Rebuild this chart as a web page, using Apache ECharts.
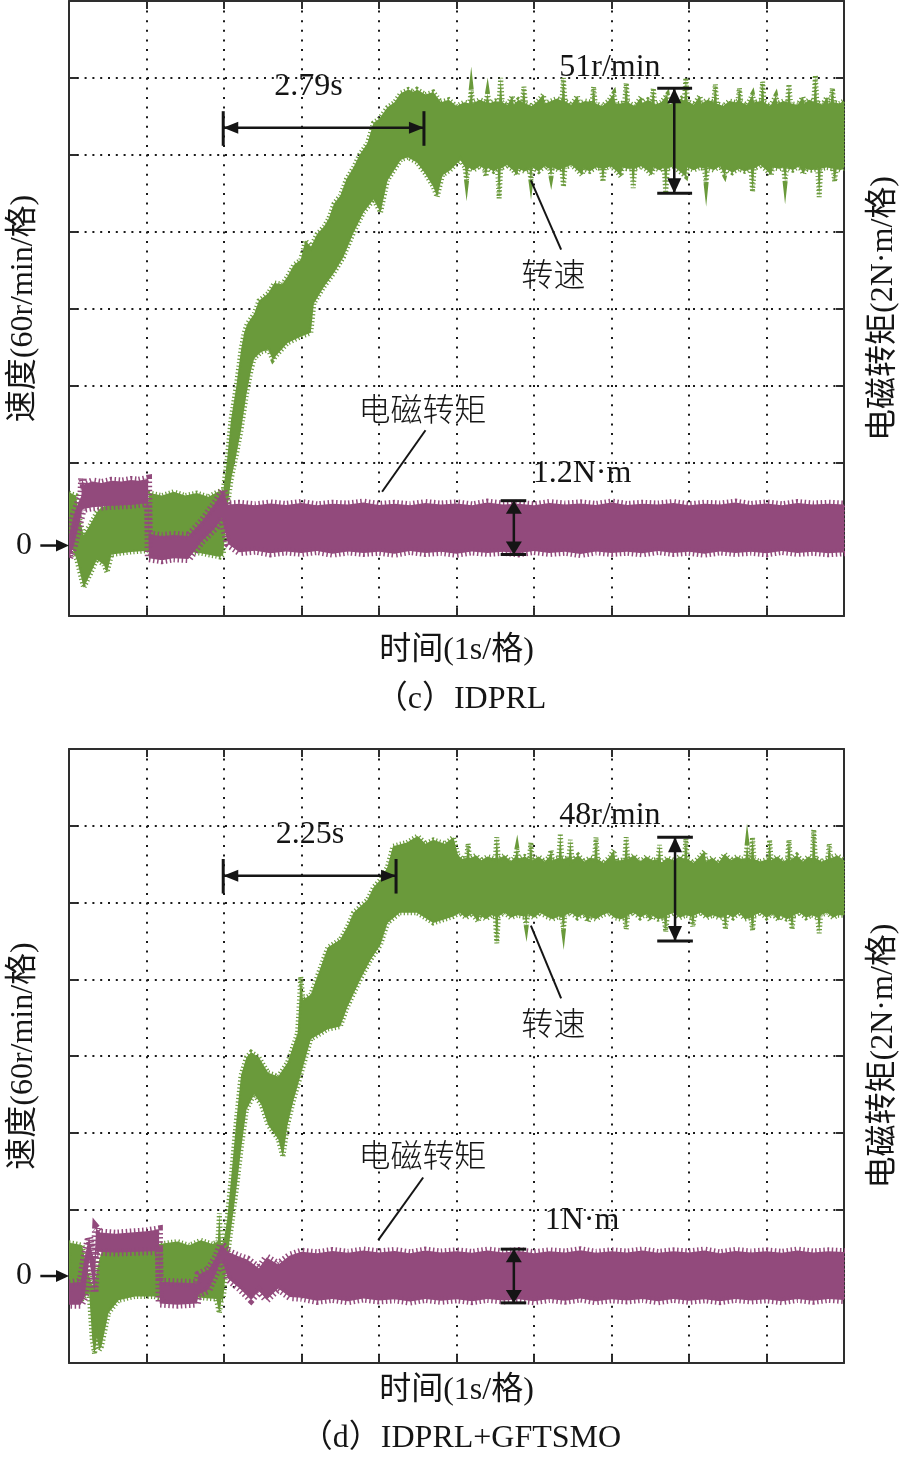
<!DOCTYPE html>
<html><head><meta charset="utf-8">
<script src="https://cdn.jsdelivr.net/npm/echarts@6/dist/echarts.min.js"></script>
<style>html,body{margin:0;padding:0;background:#fff}#c{width:908px;height:1459px}</style>
</head><body><div id="c"></div>
<script>
// Axes (time 1 s / division, speed 60 r/min / division, torque 2 N·m / division)
const timeRange = [0, 10];
const speedRange = [-60, 420];
const torqueRange = [-2, 14];
const speedStep = 60, torqueStep = 2, timeStep = 1;

// ---------- (c) IDPRL : envelopes [t (s), value] ----------
const speedUpperC = [[0,36],[0.09,34],[0.14,15],[0.19,3],[0.27,11],[0.36,21],[0.42,25],[0.6,27],[0.8,29],[1.02,29],[1.04,36],[1.2,34],[1.35,37],[1.5,34],[1.65,36],[1.8,33],[1.92,37],[1.99,38],[2.04,62],[2.09,93],[2.16,120],[2.22,148],[2.26,161],[2.3,168],[2.39,176],[2.45,186],[2.57,192],[2.65,200],[2.75,199],[2.82,205],[2.9,214],[2.99,218],[3.05,233],[3.12,228],[3.2,238],[3.29,244],[3.35,250],[3.42,262],[3.5,268],[3.58,281],[3.67,290],[3.75,300],[3.85,309],[3.93,325],[4.0,328],[4.11,337],[4.2,341],[4.28,348],[4.38,351],[4.45,349],[4.49,351],[4.6,347],[4.7,349],[4.8,341],[4.9,343],[5.0,338],[5.1,341],[5.17,340],[5.19,351],[5.21,340],[5.3,343],[5.38,341],[5.4,348],[5.42,340],[5.5,342],[5.55,341],[5.57,360],[5.59,341],[5.66,339],[5.72,346],[5.74,339],[5.8,343],[5.85,341],[5.87,353],[5.89,340],[5.97,338],[6.05,342],[6.12,347],[6.14,340],[6.22,342],[6.3,344],[6.36,342],[6.38,360],[6.4,342],[6.48,339],[6.56,346],[6.58,340],[6.66,342],[6.75,341],[6.77,353],[6.79,340],[6.88,338],[6.96,342],[7.03,348],[7.05,340],[7.12,340],[7.17,341],[7.19,356],[7.21,341],[7.3,338],[7.38,345],[7.4,340],[7.47,343],[7.52,341],[7.54,352],[7.56,339],[7.64,341],[7.72,347],[7.74,339],[7.82,341],[7.9,344],[7.94,342],[7.96,360],[7.98,342],[8.06,339],[8.14,346],[8.16,340],[8.24,343],[8.32,341],[8.34,355],[8.36,340],[8.44,338],[8.52,342],[8.6,341],[8.63,342],[8.65,352],[8.67,341],[8.75,339],[8.82,347],[8.84,341],[8.93,342],[8.95,357],[8.97,341],[9.05,338],[9.12,346],[9.14,340],[9.22,342],[9.27,341],[9.29,355],[9.31,340],[9.4,339],[9.47,345],[9.49,340],[9.55,343],[9.61,341],[9.63,362],[9.65,341],[9.72,339],[9.78,345],[9.8,340],[9.83,341],[9.85,352],[9.87,341],[9.94,340],[10,342]];
const speedLowerC = [[0,-1],[0.1,-16],[0.19,-38],[0.27,-28],[0.36,-16],[0.45,-20],[0.49,-26],[0.55,-12],[0.8,-10],[1.02,-9],[1.05,-11],[1.4,-9],[1.7,-11],[1.95,-14],[1.99,-12],[2.04,23],[2.09,46],[2.16,66],[2.22,85],[2.29,113],[2.35,132],[2.39,141],[2.48,146],[2.57,148],[2.63,140],[2.7,145],[2.82,153],[2.99,158],[3.12,161],[3.16,184],[3.29,197],[3.42,208],[3.54,220],[3.67,239],[3.8,255],[3.93,265],[4.02,255],[4.11,280],[4.28,296],[4.37,298],[4.49,294],[4.6,285],[4.7,275],[4.75,267],[4.82,284],[4.92,288],[5.05,296],[5.11,290],[5.13,280],[5.15,290],[5.22,288],[5.3,291],[5.36,289],[5.38,283],[5.4,290],[5.48,287],[5.53,289],[5.55,266],[5.57,289],[5.65,292],[5.73,288],[5.78,284],[5.8,289],[5.88,287],[5.94,289],[5.96,280],[5.98,290],[6.06,287],[6.14,291],[6.2,289],[6.22,283],[6.24,290],[6.32,288],[6.36,289],[6.38,275],[6.4,290],[6.48,292],[6.56,288],[6.62,284],[6.64,289],[6.72,287],[6.8,290],[6.87,289],[6.89,279],[6.91,289],[6.99,291],[7.07,287],[7.12,283],[7.14,290],[7.2,289],[7.26,289],[7.28,274],[7.3,289],[7.38,291],[7.46,288],[7.52,284],[7.54,290],[7.62,288],[7.68,290],[7.7,270],[7.72,289],[7.8,291],[7.88,287],[7.96,283],[7.98,290],[8.06,288],[8.14,290],[8.2,289],[8.22,278],[8.24,290],[8.32,288],[8.4,291],[8.46,284],[8.48,289],[8.56,286],[8.64,289],[8.72,287],[8.8,289],[8.82,271],[8.84,289],[8.92,292],[9.0,288],[9.06,284],[9.08,290],[9.16,289],[9.22,290],[9.24,279],[9.26,290],[9.34,288],[9.42,291],[9.48,285],[9.5,289],[9.58,288],[9.66,289],[9.68,267],[9.7,289],[9.78,290],[9.86,289],[9.88,279],[9.9,289],[9.96,288],[10,290]];
const torqueUpperC = [[0,0.1],[0.06,0.62],[0.13,1.0],[0.16,1.12],[0.17,1.6],[0.19,1.42],[0.3,1.5],[0.42,1.46],[0.55,1.52],[0.68,1.5],[0.8,1.54],[0.9,1.52],[1.02,1.57],[1.03,0.12],[1.2,0.08],[1.35,0.11],[1.54,0.08],[1.71,0.45],[1.9,0.98],[1.99,1.28],[2.05,0.9],[2.2,0.92],[2.4,0.88],[2.6,0.93],[2.8,0.89],[3.0,0.94],[3.2,0.88],[3.4,0.92],[3.6,0.9],[3.8,0.95],[4.0,0.89],[4.2,0.92],[4.4,0.88],[4.6,0.94],[4.8,0.9],[5.0,0.93],[5.2,0.88],[5.4,0.95],[5.6,0.9],[5.8,0.92],[6.0,0.88],[6.2,0.94],[6.4,0.9],[6.6,0.93],[6.8,0.89],[7.0,0.95],[7.2,0.89],[7.4,0.92],[7.6,0.9],[7.8,0.94],[8.0,0.88],[8.2,0.92],[8.4,0.9],[8.6,0.95],[8.8,0.89],[9.0,0.93],[9.2,0.88],[9.4,0.94],[9.6,0.9],[9.8,0.92],[10,0.9]];
const torqueLowerC = [[0,-0.5],[0.06,-0.2],[0.13,0.38],[0.16,0.62],[0.17,0.78],[0.3,0.83],[0.5,0.86],[0.8,0.89],[1.02,0.94],[1.03,-0.5],[1.2,-0.55],[1.35,-0.5],[1.54,-0.52],[1.71,-0.06],[1.9,0.32],[1.97,0.55],[2.05,-0.12],[2.2,-0.34],[2.4,-0.3],[2.6,-0.37],[2.8,-0.32],[3.0,-0.36],[3.2,-0.31],[3.4,-0.38],[3.6,-0.32],[3.8,-0.36],[4.0,-0.33],[4.2,-0.38],[4.4,-0.31],[4.6,-0.36],[4.8,-0.33],[5.0,-0.38],[5.2,-0.32],[5.4,-0.36],[5.6,-0.33],[5.8,-0.37],[6.0,-0.31],[6.2,-0.36],[6.4,-0.33],[6.6,-0.39],[6.8,-0.32],[7.0,-0.36],[7.2,-0.33],[7.4,-0.37],[7.6,-0.31],[7.8,-0.36],[8.0,-0.33],[8.2,-0.38],[8.4,-0.32],[8.6,-0.36],[8.8,-0.33],[9.0,-0.37],[9.2,-0.31],[9.4,-0.36],[9.6,-0.33],[9.8,-0.37],[10,-0.34]];

// ---------- (d) IDPRL+GFTSMO ----------
const speedUpperD = [[0,34],[0.1,33],[0.17,32],[0.24,12],[0.3,0],[0.33,3],[0.39,21],[0.42,26],[0.5,29],[0.8,29],[1.15,30],[1.16,33],[1.4,35],[1.55,32],[1.7,36],[1.85,33],[1.92,35],[1.94,57],[1.96,34],[1.99,33],[2.04,52],[2.09,83],[2.16,130],[2.22,165],[2.29,179],[2.35,183],[2.45,179],[2.57,167],[2.7,164],[2.82,175],[2.95,198],[2.99,242],[3.02,224],[3.12,228],[3.25,250],[3.34,265],[3.5,271],[3.6,282],[3.67,292],[3.85,302],[3.93,312],[4.02,318],[4.11,328],[4.18,344],[4.36,347],[4.5,352],[4.6,346],[4.7,349],[4.85,346],[4.96,351],[5.02,337],[5.08,334],[5.13,335],[5.15,346],[5.17,334],[5.25,337],[5.32,333],[5.4,336],[5.5,334],[5.52,351],[5.54,334],[5.62,337],[5.7,332],[5.76,336],[5.78,342],[5.8,334],[5.88,336],[5.94,334],[5.96,347],[5.98,333],[6.06,336],[6.14,332],[6.2,336],[6.22,341],[6.24,333],[6.32,335],[6.34,354],[6.36,334],[6.45,335],[6.47,349],[6.49,333],[6.57,337],[6.65,332],[6.72,335],[6.78,334],[6.8,351],[6.82,334],[6.9,331],[6.98,336],[7.03,341],[7.05,333],[7.12,333],[7.17,334],[7.19,351],[7.21,334],[7.29,337],[7.37,332],[7.45,336],[7.53,333],[7.6,334],[7.62,345],[7.64,331],[7.72,335],[7.8,333],[7.88,336],[7.94,334],[7.96,350],[7.98,334],[8.06,331],[8.14,336],[8.2,340],[8.22,332],[8.3,335],[8.38,331],[8.46,338],[8.54,333],[8.62,336],[8.68,334],[8.73,334],[8.75,345],[8.77,335],[8.8,334],[8.82,351],[8.84,334],[8.92,332],[9.02,334],[9.04,349],[9.06,333],[9.14,336],[9.22,332],[9.27,334],[9.29,349],[9.31,333],[9.39,337],[9.47,332],[9.54,336],[9.59,334],[9.61,357],[9.63,335],[9.71,332],[9.79,334],[9.81,346],[9.83,334],[9.91,337],[10,333]];
const speedLowerD = [[0,-10],[0.17,-10],[0.26,-5],[0.3,-42],[0.33,-53],[0.36,-40],[0.39,-50],[0.42,-47],[0.51,-21],[0.64,-11],[0.85,-8],[1.1,-8],[1.16,-9],[1.5,-8],[1.9,-10],[1.94,-21],[1.97,-10],[1.99,-10],[2.04,21],[2.09,44],[2.16,76],[2.22,107],[2.29,138],[2.39,150],[2.48,142],[2.57,126],[2.7,115],[2.76,101],[2.82,126],[2.9,146],[2.99,165],[3.12,193],[3.34,201],[3.5,203],[3.59,218],[3.76,240],[3.89,255],[4.02,267],[4.11,284],[4.27,292],[4.49,292],[4.7,284],[4.96,289],[5.04,292],[5.12,288],[5.2,291],[5.28,285],[5.3,290],[5.38,287],[5.45,290],[5.5,289],[5.52,268],[5.54,289],[5.62,292],[5.7,288],[5.78,290],[5.88,289],[5.9,282],[5.92,291],[6.0,288],[6.08,292],[6.16,289],[6.24,287],[6.32,289],[6.36,288],[6.38,279],[6.4,290],[6.48,292],[6.56,288],[6.64,291],[6.7,285],[6.72,289],[6.8,287],[6.88,290],[6.96,292],[7.04,288],[7.12,287],[7.17,288],[7.19,279],[7.21,290],[7.29,292],[7.37,288],[7.45,291],[7.5,286],[7.52,290],[7.6,287],[7.68,288],[7.7,277],[7.72,290],[7.8,292],[7.88,288],[7.96,290],[8.03,289],[8.05,281],[8.07,290],[8.15,292],[8.23,288],[8.31,290],[8.39,288],[8.45,289],[8.47,279],[8.49,291],[8.57,288],[8.65,292],[8.72,287],[8.8,288],[8.82,278],[8.84,290],[8.92,292],[9.0,288],[9.08,291],[9.16,286],[9.18,290],[9.26,287],[9.31,288],[9.33,279],[9.35,290],[9.43,292],[9.51,288],[9.59,290],[9.66,288],[9.68,276],[9.7,290],[9.78,292],[9.86,288],[9.92,290],[10,290]];
const torqueUpperD = [[0,0.08],[0.15,0.12],[0.2,0.75],[0.26,1.28],[0.3,0.85],[0.33,0.7],[0.35,1.52],[0.4,1.4],[0.6,1.37],[0.8,1.4],[1.0,1.43],[1.16,1.48],[1.17,0.12],[1.4,0.1],[1.65,0.08],[1.67,0.3],[1.8,0.43],[1.9,0.77],[1.96,1.08],[1.99,1.04],[2.05,0.9],[2.2,0.77],[2.3,0.7],[2.39,0.56],[2.45,0.47],[2.55,0.75],[2.7,0.57],[2.85,0.8],[3.0,0.9],[3.2,0.86],[3.4,0.92],[3.6,0.87],[3.8,0.93],[4.0,0.88],[4.2,0.92],[4.4,0.86],[4.6,0.93],[4.8,0.88],[5.0,0.91],[5.2,0.87],[5.4,0.93],[5.6,0.88],[5.8,0.92],[6.0,0.86],[6.2,0.91],[6.4,0.88],[6.6,0.94],[6.8,0.87],[7.0,0.91],[7.2,0.88],[7.4,0.93],[7.6,0.87],[7.8,0.91],[8.0,0.88],[8.2,0.93],[8.4,0.86],[8.6,0.92],[8.8,0.88],[9.0,0.91],[9.2,0.87],[9.4,0.93],[9.6,0.88],[9.8,0.91],[10,0.89]];
const torqueLowerD = [[0,-0.48],[0.15,-0.48],[0.2,-0.3],[0.26,0.68],[0.3,0.22],[0.33,-0.17],[0.35,0.9],[0.6,0.88],[0.9,0.9],[1.16,0.92],[1.17,-0.45],[1.4,-0.48],[1.65,-0.45],[1.67,-0.22],[1.8,-0.09],[1.9,0.35],[1.96,0.68],[1.99,0.6],[2.05,0.2],[2.2,-0.05],[2.35,-0.35],[2.45,-0.12],[2.55,-0.35],[2.7,-0.06],[2.85,-0.28],[3.0,-0.3],[3.2,-0.38],[3.4,-0.33],[3.6,-0.39],[3.8,-0.32],[4.0,-0.37],[4.2,-0.34],[4.4,-0.4],[4.6,-0.33],[4.8,-0.38],[5.0,-0.34],[5.2,-0.39],[5.4,-0.33],[5.6,-0.37],[5.8,-0.34],[6.0,-0.39],[6.2,-0.33],[6.4,-0.38],[6.6,-0.32],[6.8,-0.39],[7.0,-0.34],[7.2,-0.37],[7.4,-0.33],[7.6,-0.39],[7.8,-0.33],[8.0,-0.38],[8.2,-0.34],[8.4,-0.39],[8.6,-0.33],[8.8,-0.37],[9.0,-0.34],[9.2,-0.39],[9.4,-0.33],[9.6,-0.38],[9.8,-0.33],[10,-0.36]];

// ---------- texts ----------
const xAxisTitle = '时间(1s/格)';
const speedAxisTitle = '速度(60r/min/格)';
const torqueAxisTitle = '电磁转矩(2N·m/格)';
const captionC = '（c）IDPRL';
const captionD = '（d）IDPRL+GFTSMO';

// annotations (anchors in data units: [t, speed])
const annotC = {
  rise: '2.79s', riseAt: [3.09, 353], riseArrow: [[1.99, 321], [4.58, 321]], riseCap: [307, 334],
  sRip: '51r/min', sRipAt: [6.98, 368], sRipArrow: [[7.81, 352], [7.81, 270]], sRipCap: [7.59, 8.04],
  sName: '转速', sNameAt: [6.25, 207], sLeader: [[5.96, 280], [6.35, 226]],
  tName: '电磁转矩', tNameAt: [4.56, 102], tLeader: [[4.6, 85], [4.04, 37]],
  tRip: '1.2N·m', tRipAt: [6.62, 51], tRipArrow: [[5.74, 30], [5.74, -12]], tRipCap: [5.57, 5.9],
  zeroAt: [-0.58, -5], zeroArrow: [[-0.37, -5], [0, -5]]
};
const annotD = {
  rise: '2.25s', riseAt: [3.11, 353], riseArrow: [[1.99, 321], [4.22, 321]], riseCap: [307, 334],
  sRip: '48r/min', sRipAt: [6.98, 368], sRipArrow: [[7.82, 351], [7.82, 270]], sRipCap: [7.59, 8.05],
  sName: '转速', sNameAt: [6.25, 206], sLeader: [[5.96, 282], [6.35, 225]],
  tName: '电磁转矩', tNameAt: [4.56, 103], tLeader: [[4.57, 85], [3.99, 36]],
  tRip: '1N·m', tRipAt: [6.62, 51], tRipArrow: [[5.74, 29], [5.74, -13]], tRipCap: [5.57, 5.9],
  zeroAt: [-0.58, 8], zeroArrow: [[-0.37, 8], [0, 8]]
};

const GREEN = '#6a9a3b', PURPLE = '#924a7c', INK = '#151515', FRAME = '#2e2e2e';
const SERIF = '"Liberation Serif","Times New Roman","Noto Sans CJK SC",serif';
const CJK = '"Noto Sans CJK SC",sans-serif';

function band(upper, lower, color, xi, yi, fringe, dash) {
  return {
    type: 'custom', xAxisIndex: xi, yAxisIndex: yi, clip: true, silent: true, z: 3,
    data: [upper[0]],
    renderItem: function (params, api) {
      const pts = upper.map(p => api.coord(p));
      for (let i = lower.length - 1; i >= 0; i--) pts.push(api.coord(lower[i]));
      return { type: 'polygon', shape: { points: pts },
        style: { fill: color, stroke: color, lineWidth: fringe, lineDash: dash, lineJoin: 'miter' } };
    }
  };
}

function annotations(a, xi, yi) {
  return {
    type: 'custom', xAxisIndex: xi, yAxisIndex: yi, clip: false, silent: true, z: 10,
    data: [a.riseAt],
    renderItem: function (params, api) {
      const c = p => api.coord(p);
      const kids = [];
      const ln = (p, q, w) => kids.push({ type: 'line', shape: { x1: p[0], y1: p[1], x2: q[0], y2: q[1] }, style: { stroke: INK, lineWidth: w } });
      const head = (tip, from, len, half) => {
        const dx = tip[0] - from[0], dy = tip[1] - from[1], d = Math.hypot(dx, dy);
        const ux = dx / d, uy = dy / d, bx = tip[0] - ux * len, by = tip[1] - uy * len;
        kids.push({ type: 'polygon', shape: { points: [[tip[0], tip[1]], [bx - uy * half, by + ux * half], [bx + uy * half, by - ux * half]] }, style: { fill: INK } });
      };
      const txt = (s, p, font) => kids.push({ type: 'text', x: p[0], y: p[1], style: { text: s, font: font, fill: INK, align: 'center', verticalAlign: 'middle', textAlign: 'center', textVerticalAlign: 'middle' } });
      // rise-time arrow
      const r0 = c(a.riseArrow[0]), r1 = c(a.riseArrow[1]);
      ln(r0, r1, 2.5); head(r0, r1, 15, 6); head(r1, r0, 15, 6);
      ln(c([a.riseArrow[0][0], a.riseCap[0]]), c([a.riseArrow[0][0], a.riseCap[1]]), 3);
      ln(c([a.riseArrow[1][0], a.riseCap[0]]), c([a.riseArrow[1][0], a.riseCap[1]]), 3);
      txt(a.rise, c(a.riseAt), '32px ' + SERIF);
      // speed ripple
      const s0 = c(a.sRipArrow[0]), s1 = c(a.sRipArrow[1]);
      ln(s0, s1, 2.5); head(s0, s1, 15, 7); head(s1, s0, 15, 7);
      ln(c([a.sRipCap[0], a.sRipArrow[0][1]]), c([a.sRipCap[1], a.sRipArrow[0][1]]), 3);
      ln(c([a.sRipCap[0], a.sRipArrow[1][1]]), c([a.sRipCap[1], a.sRipArrow[1][1]]), 3);
      txt(a.sRip, c(a.sRipAt), '32px ' + SERIF);
      // torque ripple
      const t0 = c(a.tRipArrow[0]), t1 = c(a.tRipArrow[1]);
      ln(t0, t1, 2.5); head(t0, t1, 13, 8); head(t1, t0, 13, 8);
      ln(c([a.tRipCap[0], a.tRipArrow[0][1]]), c([a.tRipCap[1], a.tRipArrow[0][1]]), 3);
      ln(c([a.tRipCap[0], a.tRipArrow[1][1]]), c([a.tRipCap[1], a.tRipArrow[1][1]]), 3);
      txt(a.tRip, c(a.tRipAt), '32px ' + SERIF);
      // names + leaders
      txt(a.sName, c(a.sNameAt), '300 32px ' + CJK);
      ln(c(a.sLeader[0]), c(a.sLeader[1]), 2);
      txt(a.tName, c(a.tNameAt), '300 32px ' + CJK);
      ln(c(a.tLeader[0]), c(a.tLeader[1]), 2);
      // zero marker
      const z0 = c(a.zeroArrow[0]), z1 = c(a.zeroArrow[1]);
      ln(z0, [z1[0] - 6, z1[1]], 2.5); head(z1, z0, 13, 6);
      txt('0', c(a.zeroAt), '32px ' + SERIF);
      return { type: 'group', children: kids };
    }
  };
}

const frameLine = { color: FRAME, width: 2 };
const nameStyle = { fontFamily: SERIF, fontSize: 32, color: INK };
function xPair(gridIndex, gap) {
  return [
    { type: 'value', gridIndex, position: 'bottom', min: timeRange[0], max: timeRange[1], interval: timeStep,
      axisLine: { onZero: false, lineStyle: frameLine }, axisTick: { inside: true, length: 8, lineStyle: frameLine },
      axisLabel: { show: false },
      splitLine: { show: true, lineStyle: { color: '#1a1a1a', width: 2, type: [2, 7.6] } },
      name: xAxisTitle, nameLocation: 'middle', nameGap: gap, nameTextStyle: nameStyle },
    { type: 'value', gridIndex, position: 'top', min: timeRange[0], max: timeRange[1], interval: timeStep,
      axisLine: { onZero: false, lineStyle: frameLine }, axisTick: { inside: true, length: 8, lineStyle: frameLine },
      axisLabel: { show: false }, splitLine: { show: false } }
  ];
}
function yPair(gridIndex) {
  return [
    { type: 'value', gridIndex, position: 'left', min: speedRange[0], max: speedRange[1], interval: speedStep,
      axisLine: { onZero: false, lineStyle: frameLine }, axisTick: { inside: true, length: 8, lineStyle: frameLine },
      axisLabel: { show: false },
      splitLine: { show: true, lineStyle: { color: '#1a1a1a', width: 2, type: [2, 5.8] } },
      name: speedAxisTitle, nameLocation: 'middle', nameRotate: 90, nameGap: 29, nameTextStyle: nameStyle },
    { type: 'value', gridIndex, position: 'right', min: torqueRange[0], max: torqueRange[1], interval: torqueStep,
      axisLine: { onZero: false, lineStyle: frameLine }, axisTick: { inside: true, length: 8, lineStyle: frameLine },
      axisLabel: { show: false }, splitLine: { show: false },
      name: torqueAxisTitle, nameLocation: 'middle', nameRotate: 90, nameGap: 24, nameTextStyle: nameStyle }
  ];
}

const chart = echarts.init(document.getElementById('c'), null, { renderer: 'canvas' });
chart.setOption({
  animation: false,
  backgroundColor: '#ffffff',
  grid: [
    { left: 67, top: 1, width: 779, height: 615 },
    { left: 67, top: 749, width: 779, height: 614 }
  ],
  xAxis: [...xPair(0, 19), ...xPair(1, 12)],
  yAxis: [...yPair(0), ...yPair(1)],
  graphic: [
    { type: 'text', x: 461, y: 700, style: { text: captionC, font: '32px ' + SERIF, fill: INK, align: 'center', verticalAlign: 'middle', textAlign: 'center', textVerticalAlign: 'middle' } },
    { type: 'text', x: 461, y: 1439, style: { text: captionD, font: '32px ' + SERIF, fill: INK, align: 'center', verticalAlign: 'middle', textAlign: 'center', textVerticalAlign: 'middle' } }
  ],
  series: [
    band(speedUpperC, speedLowerC, GREEN, 0, 0, 5, [1.2, 2.3]),
    band(torqueUpperC, torqueLowerC, PURPLE, 0, 1, 8, [1.5, 2.6]),
    annotations(annotC, 0, 0),
    band(speedUpperD, speedLowerD, GREEN, 2, 2, 5, [1.2, 2.3]),
    band(torqueUpperD, torqueLowerD, PURPLE, 2, 3, 8, [1.5, 2.6]),
    annotations(annotD, 2, 2)
  ]
});
</script></body></html>
